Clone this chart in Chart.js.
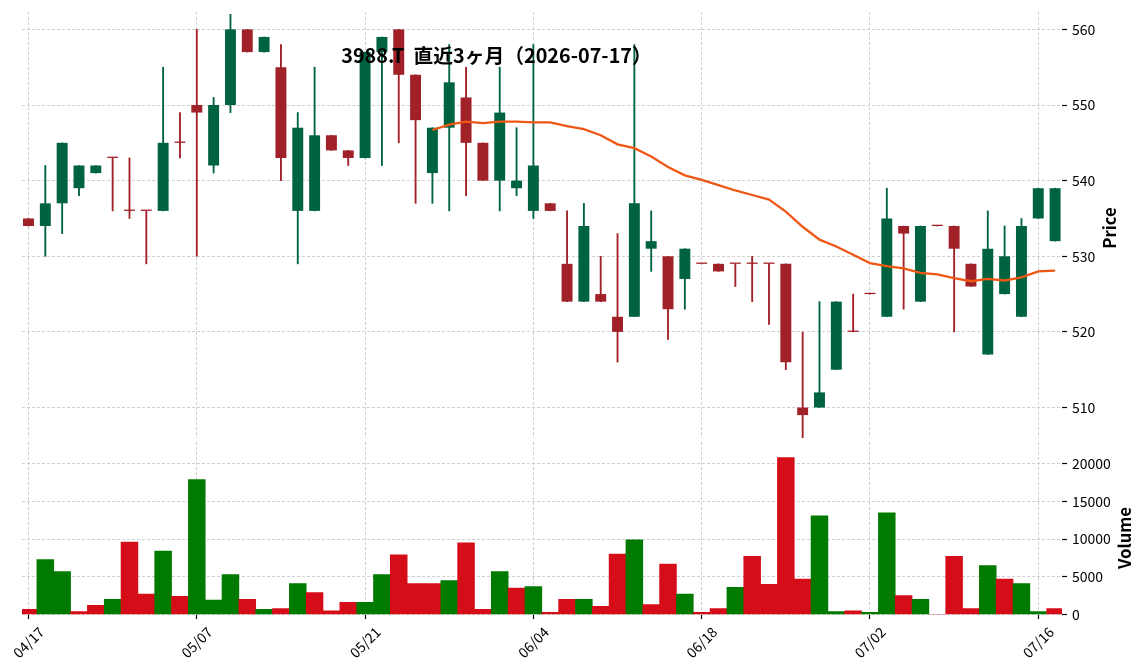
<!DOCTYPE html>
<html>
<head>
<meta charset="utf-8">
<script src="https://cdn.jsdelivr.net/npm/chart.js@4.4.1/dist/chart.umd.min.js"></script>
<style>
  html, body { margin: 0; padding: 0; background: #fff; }
  #wrap { position: relative; width: 1144px; height: 670px; }
  #price { position: absolute; left: 0; top: 0; }
  #volume { position: absolute; left: 0; top: 440px; }
</style>
</head>
<body>
<div id="wrap">
  <canvas id="price" width="1144" height="440"></canvas>
  <canvas id="volume" width="1144" height="230"></canvas>
</div>
<script>
const titleText = '3988.T  直近3ヶ月（2026-07-17）'

const dates = [
  '04/17', '04/20', '04/21', '04/22', '04/23', '04/24', '04/27', '04/28', '04/30', '05/01',
  '05/07', '05/08', '05/11', '05/12', '05/13', '05/14', '05/15', '05/18', '05/19', '05/20',
  '05/21', '05/22', '05/25', '05/26', '05/27', '05/28', '05/29', '06/01', '06/02', '06/03',
  '06/04', '06/05', '06/08', '06/09', '06/10', '06/11', '06/12', '06/15', '06/16', '06/17',
  '06/18', '06/19', '06/22', '06/23', '06/24', '06/25', '06/26', '06/29', '06/30', '07/01',
  '07/02', '07/03', '07/06', '07/07', '07/08', '07/09', '07/10', '07/13', '07/14', '07/15',
  '07/16', '07/17'
]

const opens = [
  535, 534, 537, 539, 541, 543, 536, 536, 536, 545,
  550, 542, 550, 560, 557, 555, 536, 536, 546, 544,
  543, 557, 560, 554, 541, 547, 551, 545, 540, 539,
  536, 537, 529, 524, 525, 522, 522, 531, 530, 527,
  529, 529, 529, 529, 529, 529, 510, 510, 515, 520,
  525, 522, 534, 524, 534, 534, 529, 517, 525, 522,
  535, 532
]
const highs = [
  535, 542, 545, 542, 542, 543, 543, 536, 555, 549,
  560, 551, 562, 560, 559, 558, 549, 555, 546, 544,
  557, 559, 560, 554, 547, 558, 555, 545, 555, 547,
  558, 537, 536, 537, 530, 533, 558, 536, 530, 531,
  529, 529, 529, 530, 529, 529, 520, 524, 524, 525,
  525, 539, 534, 534, 534, 534, 529, 536, 534, 535,
  539, 539
]
const lows = [
  534, 530, 533, 538, 541, 536, 535, 529, 536, 543,
  530, 541, 549, 557, 557, 540, 529, 536, 544, 542,
  543, 542, 545, 537, 537, 536, 538, 540, 536, 538,
  535, 536, 524, 524, 524, 516, 522, 528, 519, 523,
  529, 528, 526, 524, 521, 515, 506, 510, 515, 520,
  525, 522, 523, 524, 534, 520, 526, 517, 525, 522,
  535, 532
]
const closes = [
  534, 537, 545, 542, 542, 543, 536, 536, 545, 545,
  549, 550, 560, 557, 559, 543, 547, 546, 544, 543,
  557, 559, 554, 548, 547, 553, 545, 540, 549, 540,
  542, 536, 524, 534, 524, 520, 537, 532, 523, 531,
  529, 528, 529, 529, 529, 516, 509, 512, 524, 520,
  525, 535, 533, 534, 534, 531, 526, 531, 530, 534,
  539, 539
]
const volumes = [
  700, 7300, 5700, 400, 1200, 2000, 9600, 2700, 8400, 2400,
  17900, 1900, 5300, 2000, 700, 800, 4100, 2900, 500, 1600,
  1600, 5300, 7900, 4100, 4100, 4500, 9500, 700, 5700, 3500,
  3700, 300, 2000, 2000, 1100, 8000, 9900, 1300, 6700, 2700,
  300, 800, 3600, 7700, 4000, 20800, 4700, 13100, 400, 500,
  300, 13500, 2500, 2000, 0, 7700, 800, 6500, 4700, 4100,
  400, 800
]
// 25日移動平均 (index 24 から)
const maStart = 24
const maValues = [
  546.7, 547.4, 547.8, 547.6, 547.8, 547.8, 547.7, 547.7, 547.2, 546.8,
  546.0, 544.8, 544.3, 543.2, 541.8, 540.7, 540.1, 539.4, 538.7, 538.1,
  537.5, 535.9, 533.9, 532.2, 531.3, 530.2, 529.1, 528.7, 528.4, 527.8,
  527.6, 527.1, 526.7, 527.0, 526.8, 527.2, 528.0, 528.1
]
const priceTicks = [510, 520, 530, 540, 550, 560]
const volumeTicks = [0, 5000, 10000, 15000, 20000]

const fontFamily = "'Noto Sans CJK JP', 'Noto Sans', sans-serif"
const upColor = '#006340'
const downColor = '#a02128'
const volUp = '#007a00'
const volDown = '#d50d18'
const gridColor = '#c4c4c4'

const idx = dates.map((d, i) => i)
const candleColors = idx.map(i => (closes[i] > opens[i] ? upColor : downColor))
const volColors = idx.map(i => (i > 0 && closes[i] > closes[i - 1] ? volUp : volDown))

const xRange = { min: -0.386, max: 61.41 }

const xScale = (height, drawTicks) => ({
  type: 'linear',
  min: xRange.min,
  max: xRange.max,
  offset: false,
  ticks: { stepSize: 10, includeBounds: false, display: false },
  grid: {
    color: gridColor, lineWidth: 0.8, offset: false,
    drawTicks: drawTicks, tickLength: 4.5, tickColor: '#000', tickWidth: 1.2
  },
  border: { display: false, dash: [3, 2] },
  afterFit: s => {
    s.height = height
    s.paddingLeft = 0
    s.paddingRight = 0
  }
})

const yScale = (min, max, tickValues) => ({
  position: 'right',
  min: min,
  max: max,
  beginAtZero: false,
  afterBuildTicks: s => {
    s.ticks = tickValues.map(v => ({ value: v }))
  },
  ticks: {
    color: '#000', padding: 5,
    font: { family: fontFamily, size: 14 },
    callback: v => String(v)
  },
  grid: { color: gridColor, lineWidth: 0.8, tickLength: 5, tickColor: '#000', tickWidth: 1.2 },
  border: { display: false, dash: [3, 2] },
  afterFit: s => {
    s.width = 82
    s.paddingTop = 0
    s.paddingBottom = 0
  }
})

const priceText = {
  id: 'priceText',
  afterDraw(chart) {
    const ctx = chart.ctx
    ctx.save()
    ctx.fillStyle = '#000'
    ctx.textAlign = 'center'
    ctx.textBaseline = 'middle'
    ctx.font = `bold 19.8px ${fontFamily}`
    ctx.fillText(titleText, 496.5, 55)
    ctx.translate(1110, 228)
    ctx.rotate(-Math.PI / 2)
    ctx.font = `bold 16.7px ${fontFamily}`
    ctx.fillText('Price', 0, 0)
    ctx.restore()
  }
}

const volumeText = {
  id: 'volumeText',
  afterDraw(chart) {
    const ctx = chart.ctx
    const x = chart.scales.x
    ctx.save()
    ctx.fillStyle = '#000'
    ctx.textAlign = 'center'
    ctx.textBaseline = 'middle'
    ctx.font = `14px ${fontFamily}`
    x.ticks.forEach(t => {
      const label = dates[t.value]
      if (!label) return
      const w = ctx.measureText(label).width
      const half = (w + 14) / Math.SQRT2 / 2
      ctx.save()
      ctx.translate(x.getPixelForValue(t.value), chart.chartArea.bottom + 10 + half)
      ctx.rotate(-Math.PI / 4)
      ctx.fillText(label, 0, 0)
      ctx.restore()
    })
    ctx.translate(1125, 98)
    ctx.rotate(-Math.PI / 2)
    ctx.font = `bold 16.7px ${fontFamily}`
    ctx.fillText('Volume', 0, 0)
    ctx.restore()
  }
}

const commonOptions = {
  responsive: false,
  animation: false,
  events: [],
  plugins: { legend: { display: false }, tooltip: { enabled: false } }
}

new Chart(document.getElementById('price'), {
  type: 'bar',
  data: {
    datasets: [
      {
        type: 'line',
        data: maValues.map((v, i) => ({ x: i + maStart, y: v })),
        borderColor: '#ef5714',
        borderWidth: 2.3,
        pointRadius: 0,
        pointHoverRadius: 0,
        pointBorderWidth: 0,
        tension: 0,
        order: 0
      },
      {
        // 実体 (寄り引き同値は細い横線)
        data: idx.map(i => ({ x: i, y: [opens[i], closes[i]] })),
        backgroundColor: candleColors,
        barPercentage: 0.65,
        categoryPercentage: 1,
        minBarLength: 1.3,
        grouped: false,
        order: 1
      },
      {
        // ヒゲ
        data: idx.map(i => ({ x: i, y: [lows[i], highs[i]] })),
        backgroundColor: candleColors,
        barThickness: 1.2,
        grouped: false,
        order: 2
      }
    ]
  },
  options: {
    ...commonOptions,
    layout: { padding: { left: 22, right: 0, top: 12, bottom: 0 } },
    scales: {
      x: xScale(2, false),
      y: yScale(505.97, 562.3, priceTicks)
    }
  },
  plugins: [priceText]
})

new Chart(document.getElementById('volume'), {
  type: 'bar',
  data: {
    datasets: [
      {
        data: idx.map(i => ({ x: i, y: volumes[i] })),
        backgroundColor: volColors,
        barPercentage: 1,
        categoryPercentage: 1
      }
    ]
  },
  options: {
    ...commonOptions,
    layout: { padding: { left: 22, right: 0, top: 2, bottom: 0 } },
    scales: {
      x: xScale(55.5, true),
      y: yScale(0, 22880, volumeTicks)
    }
  },
  plugins: [volumeText]
})
</script>
</body>
</html>
